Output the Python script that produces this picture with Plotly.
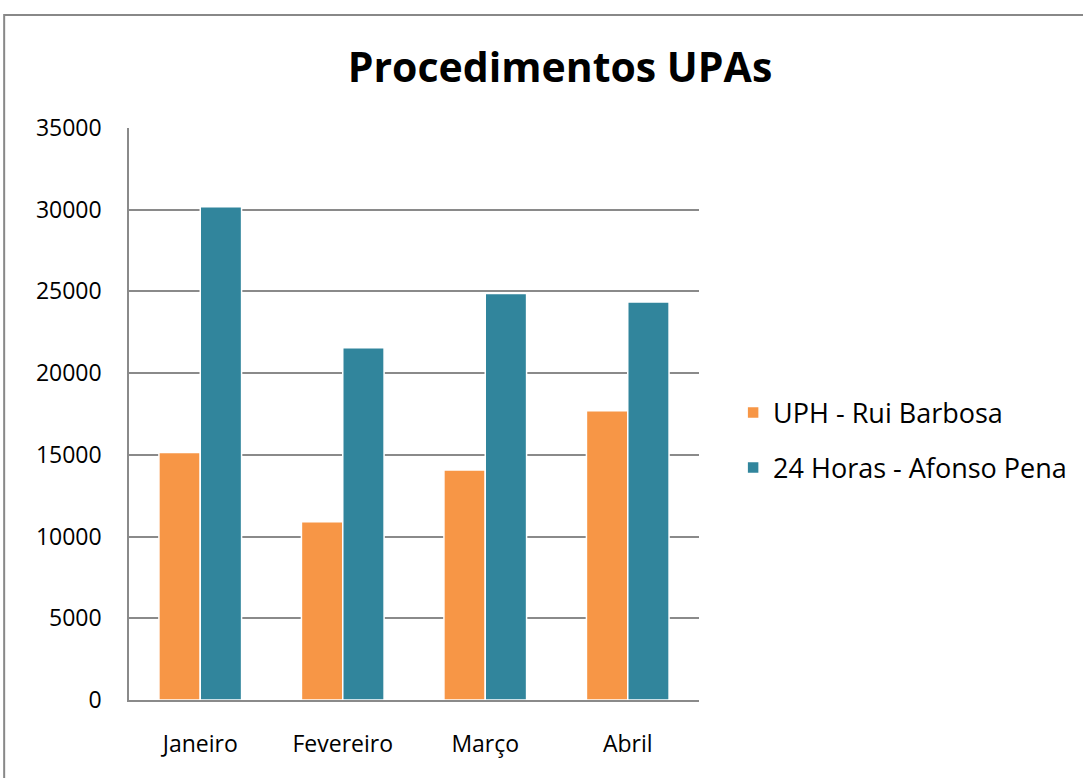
import plotly.graph_objects as go

months = ["Janeiro", "Fevereiro", "Março", "Abril"]
rui_barbosa = [15150, 10910, 14070, 17700]
afonso_pena = [30180, 21560, 24880, 24360]
y_ticks = [0, 5000, 10000, 15000, 20000, 25000, 30000, 35000]

FONT = "Open Sans"
fig = go.Figure()
fig.add_trace(go.Bar(x=months, y=rui_barbosa, name="UPH - Rui Barbosa", legend="legend",
                     showlegend=True,
                     marker=dict(color="#F79646", line=dict(color="white", width=1.5))))
fig.add_trace(go.Bar(x=months, y=afonso_pena, name="24 Horas - Afonso Pena", legend="legend2",
                     showlegend=True,
                     marker=dict(color="#31859C", line=dict(color="white", width=1.5))))

leg_common = dict(x=1.058, xanchor="left", yanchor="middle", visible=True,
                  font=dict(family=FONT, size=27), bgcolor="rgba(0,0,0,0)")
fig.update_layout(
    width=1083, height=778, showlegend=True,
    margin=dict(l=129, r=383, t=128, b=78),
    paper_bgcolor="white", plot_bgcolor="white",
    barmode="group", bargap=0.42, bargroupgap=0.0,
    font=dict(family=FONT, color="black"),
    title=dict(text="<b>Procedimentos UPAs</b>", x=560 / 1083, xanchor="center",
               y=1 - 68 / 778, yanchor="middle", yref="container",
               font=dict(family=FONT, size=41, color="black")),
    legend=dict(y=0.502, **leg_common),
    legend2=dict(y=0.4056, **leg_common),
    xaxis=dict(showline=True, linecolor="#8a8a8a", linewidth=2, ticks="",
               tickfont=dict(family=FONT, size=23), ticklabelstandoff=22),
    yaxis=dict(range=[0, 35000], tickvals=y_ticks, tickformat="d", showgrid=True,
               gridcolor="#8a8a8a", gridwidth=1.8, showline=True,
               linecolor="#8a8a8a", linewidth=1.5, zeroline=False,
               ticks="", tickfont=dict(family=FONT, size=23), ticklabelstandoff=21),
)
fig.add_shape(type="rect", xref="paper", yref="paper",
              x0=-0.219, x1=1.9, y0=-0.3, y1=1.1976,
              line=dict(color="#888888", width=2), layer="below")
fig.write_html("out.html", config={"displayModeBar": False},
               post_script="document.body.style.margin='0';")
